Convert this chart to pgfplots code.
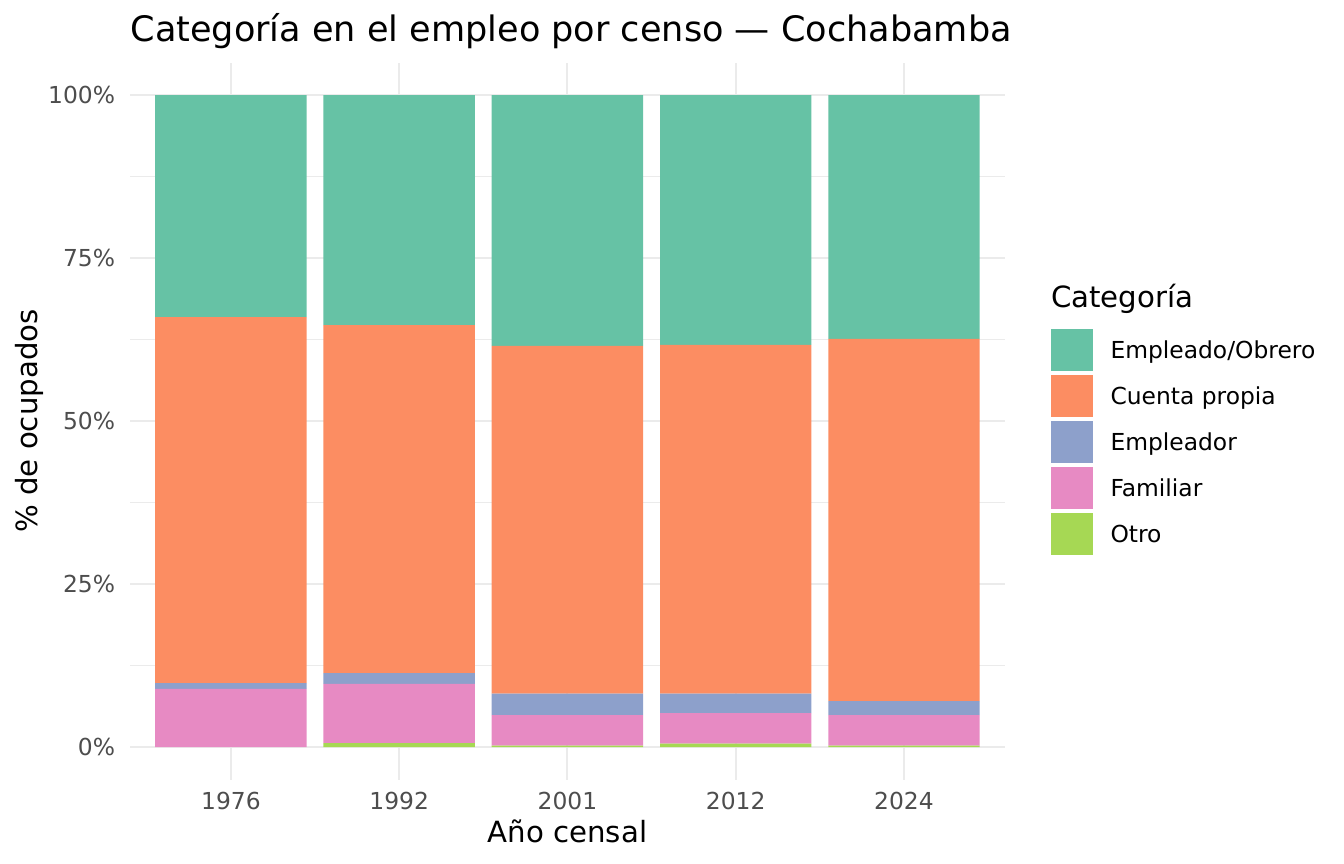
\documentclass[border=0pt]{standalone}
\usepackage{pgfplots}
\pgfplotsset{compat=1.18}
\usepackage{fontspec}
\setmainfont{DejaVu Sans}
\definecolor{cEO}{HTML}{66C2A5}
\definecolor{cCP}{HTML}{FC8D62}
\definecolor{cEM}{HTML}{8DA0CB}
\definecolor{cFA}{HTML}{E78AC3}
\definecolor{cOT}{HTML}{A6D854}
\definecolor{gridc}{HTML}{EBEBEB}
\definecolor{tickc}{HTML}{4D4D4D}
\begin{document}
\begin{tikzpicture}
\useasboundingbox (0,0) rectangle (504bp,324bp);
\begin{axis}[
  at={(48.75bp,31.65bp)}, anchor=south west,
  scale only axis, width=328.1bp, height=268.9bp,
  xmin=-0.6, xmax=4.6, ymin=-5, ymax=105,
  ybar stacked, bar width=0.9,
  axis line style={draw=none},
  tick style={draw=none},
  xtick={0,1,2,3,4},
  xticklabels={1976,1992,2001,2012,2024},
  ytick={0,25,50,75,100},
  yticklabels={0\%,25\%,50\%,75\%,100\%},
  minor ytick={12.5,37.5,62.5,87.5},
  xmajorgrids, ymajorgrids, yminorgrids,
  major grid style={draw=gridc, line width=0.75bp},
  minor grid style={draw=gridc, line width=0.4bp},
  xticklabel style={font=\fontsize{8.8}{10}\selectfont, text=tickc, inner sep=0pt, anchor=north, yshift=-4.6bp},
  yticklabel style={font=\fontsize{8.8}{10}\selectfont, text=tickc, inner sep=0pt, anchor=east, xshift=-5.4bp},
  every axis plot/.append style={draw=none},
]
\addplot[fill=cOT] coordinates {(0,0) (1,0.6) (2,0.2) (3,0.5) (4,0.2)};
\addplot[fill=cFA] coordinates {(0,8.9) (1,9.1) (2,4.7) (3,4.7) (4,4.7)};
\addplot[fill=cEM] coordinates {(0,0.9) (1,1.65) (2,3.3) (3,3.0) (4,2.15)};
\addplot[fill=cCP] coordinates {(0,56.15) (1,53.35) (2,53.35) (3,53.5) (4,55.55)};
\addplot[fill=cEO] coordinates {(0,34.05) (1,35.3) (2,38.45) (3,38.3) (4,37.4)};
\end{axis}
% titles
\node[anchor=base west, inner sep=0pt, font=\fontsize{13.2}{15}\selectfont] at (48.75bp,308.4bp) {Categoría en el empleo por censo — Cochabamba};
\node[anchor=base, inner sep=0pt, font=\fontsize{11}{13}\selectfont] at (212.8bp,8.25bp) {Año censal};
\node[anchor=center, rotate=90, inner sep=0pt, font=\fontsize{11}{13}\selectfont] at (10.9bp,166.1bp) {\% de ocupados};
% legend
\node[anchor=base west, inner sep=0pt, font=\fontsize{11}{13}\selectfont] at (394bp,208.6bp) {Categoría};
\foreach \yc/\col/\lab in {192.75/cEO/Empleado\slash Obrero, 175.5/cCP/Cuenta propia, 158.25/cEM/Empleador, 141/cFA/Familiar, 123.75/cOT/Otro}{
  \fill[\col] (394.1bp,\yc bp-7.875bp) rectangle (409.9bp,\yc bp+7.875bp);
  \node[anchor=base west, inner sep=0pt, font=\fontsize{8.8}{10}\selectfont] at (416.25bp,\yc bp-3.2bp) {\lab};
}
\end{tikzpicture}
\end{document}
